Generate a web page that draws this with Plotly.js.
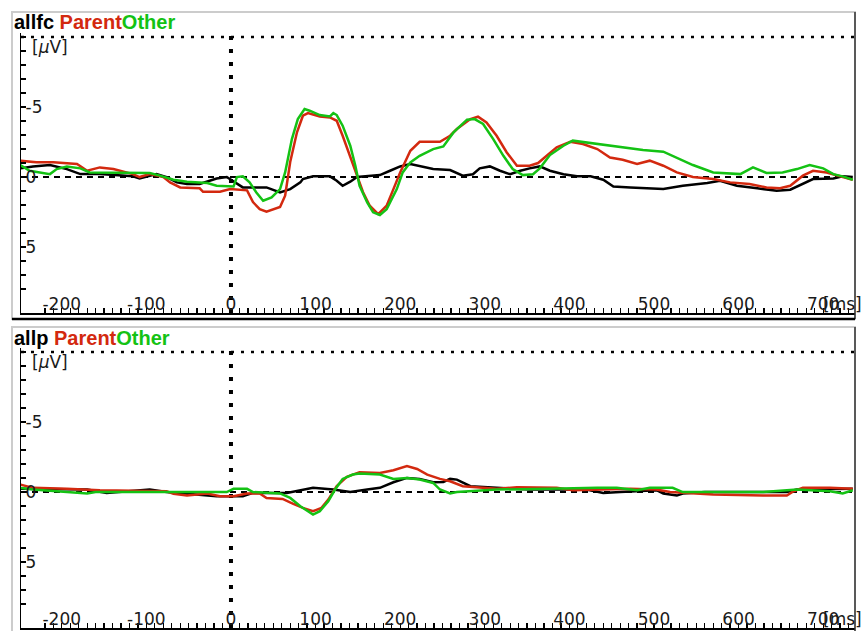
<!DOCTYPE html>
<html>
<head>
<meta charset="utf-8">
<script src="https://cdn.plot.ly/plotly-3.0.1.min.js"></script>
<style>html,body{margin:0;padding:0;background:#fff;}#chart{width:867px;height:631px;}</style>
</head>
<body>
<div id="chart"></div>
<script>
// ---------- Data (time in ms, amplitude in µV; negative plotted upward) ----------
// Panel 1: allfc
const fcBlackT = [-249,-234,-214,-194,-178,-155,-116,-108,-88,-76,-64,-52,-37,-25,-17,-5,7,14,42,58,70,82,85,97,117,125,132,141,149,164,176,188,200,212,227,239,259,274,286,294,306,318,330,342,353,365,377,393,409,425,440,452,472,487,511,534,563,578,598,622,645,661,676,688,712,723,735];
const fcBlackV = [-0.62,-0.76,-0.86,-0.57,-0.21,-0.21,-0.05,0.10,-0.21,0.0,0.38,0.5,0.5,0.26,0.1,0.0,0.43,0.74,0.74,1.10,0.86,0.38,0.14,-0.05,-0.05,0.26,0.62,0.33,0.0,-0.05,-0.14,-0.45,-0.76,-0.93,-0.76,-0.57,-0.5,-0.10,-0.20,-0.62,-0.76,-0.45,-0.20,-0.45,-0.62,-0.76,-0.45,-0.20,-0.05,-0.05,0.19,0.67,0.74,0.80,0.86,0.62,0.43,0.26,0.62,0.80,0.98,0.90,0.50,0.14,0.10,-0.05,0.0];

const fcRedT = [-249,-230,-210,-182,-170,-155,-139,-116,-108,-96,-80,-72,-60,-37,-33,-13,-1,19,26,34,42,58,64,70,78,85,91,105,117,125,132,141,149,156,164,174,184,192,200,212,223,247,259,267,283,292,302,314,326,338,353,363,373,385,401,416,433,448,463,480,495,511,527,546,570,590,613,633,649,661,676,688,704,720,735];
const fcRedV = [-1.16,-1.06,-1.06,-0.93,-0.45,-0.69,-0.57,-0.21,0.0,-0.21,0.0,0.38,0.74,0.80,1.05,1.05,0.86,0.95,1.79,2.29,2.48,2.14,1.33,-1.07,-3.2,-4.38,-4.57,-4.33,-4.26,-4.02,-2.95,-1.52,-0.10,1.07,2.05,2.64,2.05,0.86,-0.33,-1.88,-2.52,-2.52,-2.95,-3.43,-4.14,-4.31,-3.90,-2.95,-1.76,-0.81,-0.81,-1.00,-1.52,-2.12,-2.52,-2.36,-2.00,-1.40,-1.24,-0.93,-1.17,-0.81,-0.33,0.0,0.14,0.38,0.50,0.74,0.80,0.62,-0.10,-0.45,-0.33,-0.05,0.19];

const fcGreenT = [-249,-238,-214,-206,-194,-178,-167,-96,-84,-68,-52,-28,-17,3,7,14,22,30,38,48,58,64,72,79,87,93,105,117,121,125,132,141,147,152,161,168,176,184,196,203,212,223,239,251,263,279,288,298,310,322,333,345,357,365,377,393,404,424,456,487,511,527,546,570,602,617,633,652,669,684,700,712,723,735];
const fcGreenV = [-0.86,-0.45,-0.21,-0.57,-0.76,-0.62,-0.33,-0.29,-0.10,0.19,0.33,0.43,0.62,0.68,0.0,-0.05,0.38,1.10,1.69,1.45,0.86,-0.33,-2.71,-4.14,-4.86,-4.74,-4.43,-4.33,-4.57,-4.43,-3.67,-2.24,-0.81,0.62,1.81,2.52,2.71,2.29,0.86,-0.33,-1.05,-1.52,-2.00,-2.19,-3.19,-4.10,-4.14,-3.79,-2.71,-1.52,-0.57,-0.14,-0.20,-0.62,-1.57,-2.24,-2.60,-2.43,-2.19,-1.93,-1.81,-1.40,-0.86,-0.33,-0.21,-0.69,-0.29,-0.33,-0.57,-0.86,-0.62,-0.21,-0.05,0.19];

// Panel 2: allp
const pBlackT = [-249,-194,-170,-147,-96,-76,-17,14,26,66,82,97,121,141,161,176,192,208,223,239,251,259,267,283,314,353,420,440,460,503,511,527,534,560,629,657,669,708,735];
const pBlackV = [-0.23,-0.23,-0.18,0.06,-0.18,0.0,0.30,0.30,0.06,0.06,-0.13,-0.30,-0.18,0.0,-0.18,-0.30,-0.70,-1.01,-0.94,-0.70,-0.72,-0.94,-0.89,-0.42,-0.30,-0.18,-0.18,0.06,0.0,-0.13,0.10,0.25,0.10,0.0,0.0,0.0,-0.18,-0.23,-0.23];

const pRedT = [-249,-234,-194,-155,-76,-68,-52,-28,-13,3,19,34,42,61,73,85,97,107,115,125,137,152,176,192,208,220,232,247,259,274,314,338,385,404,472,503,519,534,550,570,629,657,665,676,708,735];
const pRedV = [-0.54,-0.30,-0.23,-0.13,-0.06,0.13,0.25,0.10,0.30,0.30,0.10,0.10,0.42,0.49,0.82,1.13,1.37,1.13,0.54,-0.42,-1.08,-1.42,-1.37,-1.56,-1.85,-1.65,-1.25,-0.94,-0.77,-0.42,-0.23,-0.35,-0.30,-0.13,-0.23,-0.18,0.0,0.06,0.10,0.18,0.25,0.25,-0.06,-0.30,-0.30,-0.23];

const pGreenT = [-249,-234,-170,-160,-5,3,19,26,58,70,82,91,97,105,115,123,132,144,152,176,192,208,223,239,247,259,267,314,345,377,433,456,480,495,522,534,566,629,669,708,723,735];
const pGreenV = [-0.30,-0.18,0.10,0.0,0.0,-0.23,-0.23,0.0,0.10,0.42,1.01,1.37,1.61,1.37,0.65,-0.18,-0.94,-1.25,-1.32,-1.25,-0.94,-1.01,-0.89,-0.65,-0.18,0.10,0.0,-0.18,-0.18,-0.23,-0.30,-0.30,-0.13,-0.30,-0.30,0.0,0.0,0.0,-0.18,-0.06,0.10,-0.13];

// Tick labels
const xTickVals = [-200,-100,0,100,200,300,400,500,600,700];
const xTickText = ["-200","-100","0","100","200","300","400","500","600","700"];
const yTickVals = [-5,0,5];
const yTickText = ["-5","0","5"];
const panelNames = ["allfc","allp"];
const condNames = ["Parent","Other"];

// ---------- Styling ----------
const W = 867, H = 631;
const RED = "#d3290f", GREEN = "#14c214", BLACK = "#000000";
const TXT = "#1a1a1a";
const px = v => v / W;          // horizontal pixel -> paper
const py = v => 1 - v / H;      // vertical pixel -> paper
const xRange = [-248.2, 737.6];
const yRange = [9.71, -10.29];
const axFont = {family: "DejaVu Sans", size: 17, color: TXT};

// all tick marks (every 10 ms / 1 µV) with labels only where the label arrays say
function tickSet(from, to, step, vals, texts) {
  const tv = [], tt = [];
  for (let v = from; v <= to + 1e-9; v += step) {
    tv.push(v);
    const k = vals.indexOf(v);
    tt.push(k >= 0 ? texts[k] : "");
  }
  return {tv, tt};
}
const xt = tickSet(-240, 730, 10, xTickVals, xTickText);
const yt = tickSet(-10, 9, 1, yTickVals, yTickText);

function trace(t, v, color, n) {
  return {x: t, y: v, type: "scatter", mode: "lines",
          line: {color: color, width: 2.5}, xaxis: n === 1 ? "x" : "x2", yaxis: n === 1 ? "y" : "y2",
          hoverinfo: "skip", showlegend: false};
}
const data = [
  trace(fcBlackT, fcBlackV, BLACK, 1), trace(fcRedT, fcRedV, RED, 1), trace(fcGreenT, fcGreenV, GREEN, 1),
  trace(pBlackT, pBlackV, BLACK, 2), trace(pRedT, pRedV, RED, 2), trace(pGreenT, pGreenV, GREEN, 2)
];

function xAxis(anchor) {
  return {domain: [px(21), px(855)], range: xRange, anchor: anchor, showgrid: false, zeroline: false,
    showline: true, linecolor: BLACK, linewidth: 2,
    tickmode: "array", tickvals: xt.tv, ticktext: xt.tt,
    ticks: "inside", ticklen: 5, tickwidth: 1.3, tickcolor: BLACK,
    ticklabelposition: "inside", ticklabelstandoff: -5, tickfont: axFont,
    fixedrange: true};
}
function yAxis(anchor, top, bottom) {
  return {domain: [py(bottom), py(top)], range: yRange, anchor: anchor, showgrid: false, zeroline: false,
    showline: true, linecolor: BLACK, linewidth: 1.5,
    tickmode: "array", tickvals: yt.tv, ticktext: yt.tt,
    ticks: "inside", ticklen: 5, tickwidth: 1.5, tickcolor: BLACK,
    ticklabelposition: "inside", ticklabelstandoff: 0, tickfont: axFont,
    fixedrange: true};
}

const shapes = [];
const annotations = [];
[["x","y",0],["x2","y2",315]].forEach(([xa, ya, off], i) => {
  // panel frame
  shapes.push({type: "rect", xref: "paper", yref: "paper", x0: px(12), x1: px(855), y0: py(319 + off), y1: py(12 + off),
               line: {color: "#cccccc", width: 2}, layer: "below"});
  shapes.push({type: "line", xref: "paper", yref: "paper", x0: px(855), x1: px(855), y0: py(319 + off), y1: py(12 + off),
               line: {color: "#333333", width: 1.5}});
  shapes.push({type: "line", xref: "paper", yref: "paper", x0: px(12), x1: px(855), y0: py(319 + off), y1: py(319 + off),
               line: {color: BLACK, width: 2.5}});
  // zero line
  shapes.push({type: "line", xref: xa + " domain", yref: ya, x0: 0, x1: 1, y0: 0, y1: 0,
               line: {color: BLACK, width: 2, dash: "6px,5px"}, layer: "below"});
  // top dotted line
  shapes.push({type: "line", xref: xa + " domain", yref: ya, x0: 0, x1: 1, y0: -10, y1: -10,
               line: {color: BLACK, width: 2.5, dash: "3px,7px"}, layer: "below"});
  // stimulus onset
  shapes.push({type: "line", xref: xa, yref: ya + " domain", x0: 0, x1: 0, y0: 0, y1: 0.99,
               line: {color: BLACK, width: 4, dash: "4px,9px"}, layer: "below"});
  annotations.push({xref: "paper", yref: "paper", x: px(12), y: py(22.5 + off), xanchor: "left", yanchor: "middle",
    showarrow: false, font: {family: "Liberation Sans", size: 20, color: BLACK},
    text: "<b>" + panelNames[i] + " <span style='color:" + RED + "'>" + condNames[0] + "</span><span style='color:" + GREEN + "'>" + condNames[1] + "</span></b>"});
  annotations.push({xref: "paper", yref: "paper", x: px(30), y: py(46.5 + off), xanchor: "left", yanchor: "middle",
    showarrow: false, font: axFont, text: "[<i>μ</i>V]"});
  annotations.push({xref: "paper", yref: "paper", x: px(821), y: py(304 + off), xanchor: "left", yanchor: "middle",
    showarrow: false, font: axFont, text: "[ms]"});
});

const layout = {
  width: W, height: H, margin: {l: 0, r: 0, t: 0, b: 0},
  paper_bgcolor: "#ffffff", plot_bgcolor: "rgba(0,0,0,0)",
  showlegend: false,
  xaxis: xAxis("y"), yaxis: yAxis("x", 33, 313),
  xaxis2: xAxis("y2"), yaxis2: yAxis("x2", 348, 628),
  shapes: shapes, annotations: annotations
};
Plotly.newPlot("chart", data, layout, {staticPlot: true, displayModeBar: false});
</script>
</body>
</html>
